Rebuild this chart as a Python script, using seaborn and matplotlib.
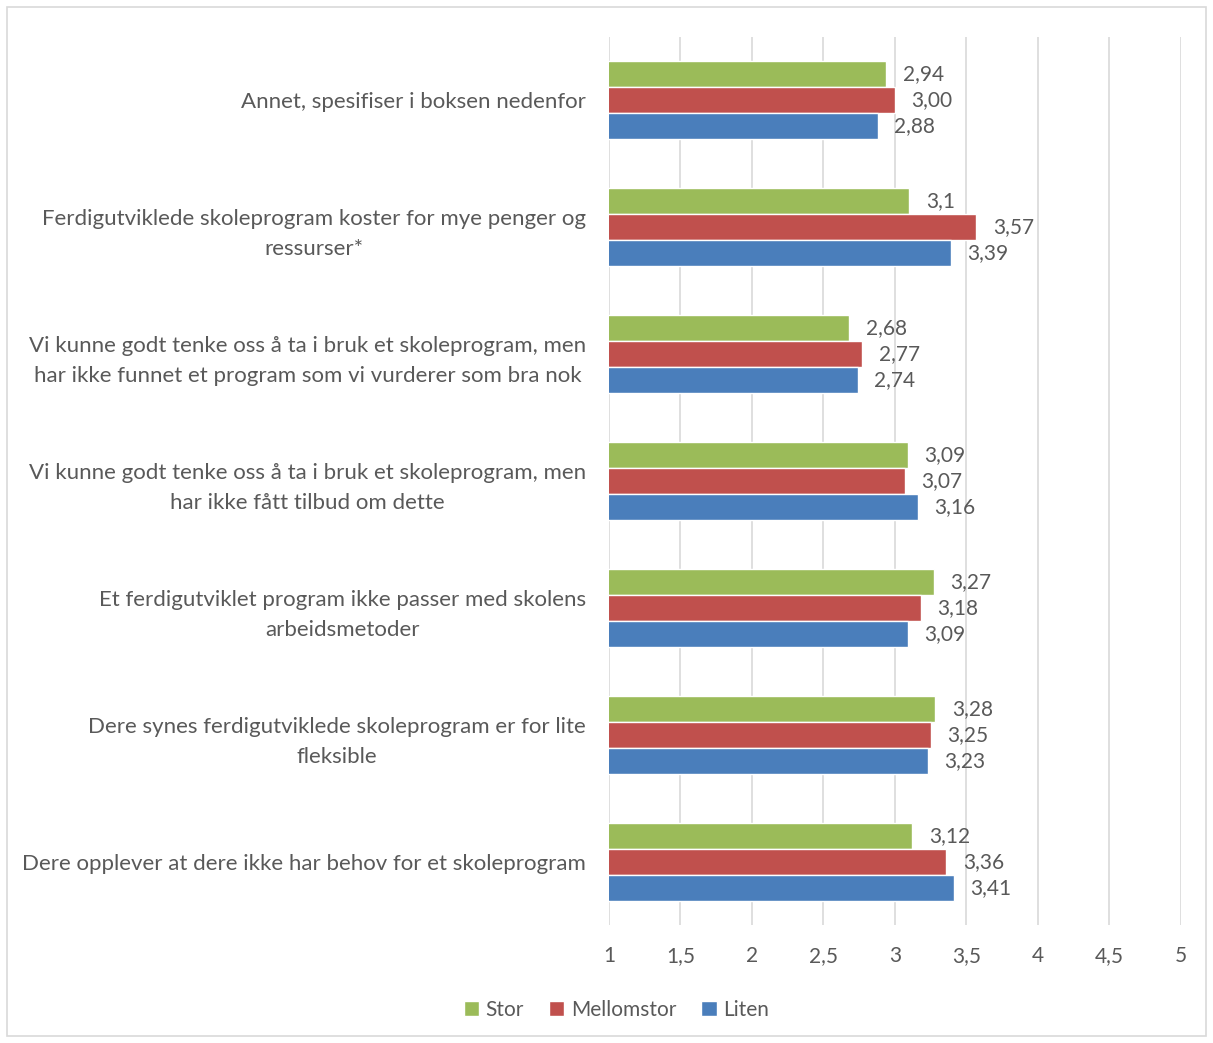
import seaborn as sns
import matplotlib.pyplot as plt
import pandas as pd
from matplotlib.patches import Rectangle

# data
kategorier = [
    "Annet, spesifiser i boksen nedenfor",
    "Ferdigutviklede skoleprogram koster for mye penger og\nressurser*",
    "Vi kunne godt tenke oss å ta i bruk et skoleprogram, men\nhar ikke funnet et program som vi vurderer som bra nok",
    "Vi kunne godt tenke oss å ta i bruk et skoleprogram, men\nhar ikke fått tilbud om dette",
    "Et ferdigutviklet program ikke passer med skolens\narbeidsmetoder",
    "Dere synes ferdigutviklede skoleprogram er for lite\nfleksible",
    "Dere opplever at dere ikke har behov for et skoleprogram",
]
serier = ["Stor", "Mellomstor", "Liten"]
stor = ["2,94", "3,1", "2,68", "3,09", "3,27", "3,28", "3,12"]
mellomstor = ["3,00", "3,57", "2,77", "3,07", "3,18", "3,25", "3,36"]
liten = ["2,88", "3,39", "2,74", "3,16", "3,09", "3,23", "3,41"]
farger = ["#9BBB59", "#C0504D", "#4A7EBB"]
xticks = [1, 1.5, 2, 2.5, 3, 3.5, 4, 4.5, 5]
xtick_tekst = ["1", "1,5", "2", "2,5", "3", "3,5", "4", "4,5", "5"]

etiketter = {"Stor": stor, "Mellomstor": mellomstor, "Liten": liten}
rader = []
for s in serier:
    for k, v in zip(kategorier, etiketter[s]):
        rader.append({"kategori": k, "serie": s, "verdi": float(v.replace(",", "."))})
df = pd.DataFrame(rader)

sns.set_style("white")
plt.rcParams["font.family"] = ["Lato", "DejaVu Sans"]
grå = "#595959"

fig = plt.figure(figsize=(12.13, 10.43), dpi=100)
ax = fig.add_axes([0.502, 0.1127, 0.4716, 0.8523])

sns.barplot(data=df, y="kategori", x="verdi", hue="serie", order=kategorier,
            hue_order=serier, palette=farger, orient="h", width=0.62, gap=0,
            saturation=1, ax=ax, legend=True, zorder=3)

ax.set_xlim(1, 5)
ax.set_xticks(xticks)
ax.set_xticklabels(xtick_tekst)
ax.grid(axis="x", color="#D9D9D9", linewidth=1.2, zorder=0)
ax.set_axisbelow(True)
for sp in ax.spines.values():
    sp.set_visible(False)
ax.set_xlabel("")
ax.set_ylabel("")
ax.tick_params(axis="x", length=0, pad=15, labelsize=15, labelcolor=grå)
ax.tick_params(axis="y", length=0, pad=16.5, labelsize=16, labelcolor=grå)
for lab in ax.get_yticklabels():
    lab.set_linespacing(1.6)
    lab.set_multialignment("center")

for cont, s in zip(ax.containers, serier):
    ax.bar_label(cont, labels=etiketter[s], padding=12, fontsize=15, color=grå)

handles, labels = ax.get_legend_handles_labels()
ax.legend_.remove()
fig.legend(handles, labels, loc="center", bbox_to_anchor=(0.508, 0.032), ncol=3,
           frameon=False, fontsize=15, labelcolor=grå, handlelength=0.75,
           handleheight=0.75, handletextpad=0.3, columnspacing=1.2)

fig.patches.append(Rectangle((7 / 1213, 7 / 1043), 1199 / 1213, 1029 / 1043,
                             transform=fig.transFigure, fill=False,
                             edgecolor="#D9D9D9", linewidth=1.2))

fig.savefig("out.png", dpi=100)
